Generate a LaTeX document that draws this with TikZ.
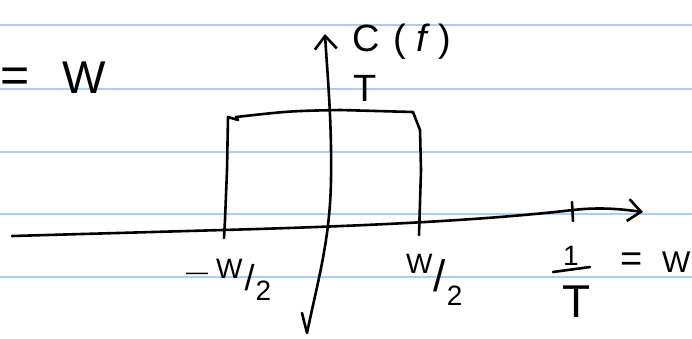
\documentclass[tikz,border=0pt]{standalone}
\usepackage{fontspec}
\setmainfont{Liberation Sans}
\usetikzlibrary{arrows.meta}
\definecolor{ruleblue}{RGB}{166,206,248}
\begin{document}
\begin{tikzpicture}[x=1pt,y=-1pt,
  rule/.style={draw=ruleblue, line width=2pt},
  ink/.style={draw=black, line width=2.6pt, line cap=round, line join=round},
  axis/.style={ink, -{Straight Barb[length=13pt,width=22pt]}},
  lbl/.style={inner sep=0pt, text=black},
  big/.style={lbl, font=\fontsize{46}{50}\selectfont},
  mid/.style={lbl, font=\fontsize{38}{42}\selectfont},
  small/.style={lbl, font=\fontsize{28}{32}\selectfont}]
\useasboundingbox (0,0) rectangle (692,338);
\fill[white] (0,0) rectangle (692,338);

% ruled paper
\foreach \y in {25,89,152,214,277}
  \draw[rule] (0,\y) -- (692,\y);

% axis end points
\coordinate (vbot) at (307,333);
\coordinate (vtop) at (325,34);
\coordinate (hleft) at (12,236);
\coordinate (hright) at (643,212);

% vertical axis with its small hook at the bottom
\draw[axis] (302,313) -- (vbot) .. controls (318,280) and (330,240) .. (331,180)
  .. controls (332,120) and (327,70) .. (vtop);

% horizontal (frequency) axis
\draw[axis] (hleft) -- (223,230) .. controls (330,227) and (470,222) .. (573,210)
  .. controls (600,207) and (620,209) .. (hright);

% tick at 1/T
\coordinate (tk1) at (572,202);
\coordinate (tk2) at (573,221);
\draw[ink] (tk1) -- (tk2);

% rectangular pulse of height T from -W/2 to W/2
\coordinate (pl0) at (224,238);
\coordinate (pl1) at (228,117);
\coordinate (pr1) at (413,112);
\coordinate (pr0) at (419,235);
\draw[ink] (pl0) -- (225,220) -- (227,170) -- (pl1) -- (238,120) -- (236,117)
  .. controls (290,111) .. (340,110) -- (pr1) -- (420,130) -- (421,170) -- (pr0);

% labels
\node[big] (eqw) at (84,78) {W};
\node[lbl, font=\fontsize{50}{50}\selectfont] (eqs) at (15,80) {=};
\node[mid, anchor=west] (cf) at (352,42) {C\hspace{14pt}(\hspace{10pt}\textit{f}\hspace{8pt})};
\node[mid] (tval) at (365,88) {T};
\node[small, anchor=west] (lneg) at (186,280) {\raisebox{5pt}{\fontsize{22}{22}\selectfont —}\hspace{8pt}\raisebox{6pt}{W}\hspace{2pt}\raisebox{-6pt}{\fontsize{36}{36}\selectfont /}\hspace{1pt}\raisebox{-16pt}{2}};
\node[small, anchor=west] (lpos) at (406,280) {\raisebox{12pt}{W}\hspace{1pt}\raisebox{-6pt}{\fontsize{44}{44}\selectfont /}\hspace{1pt}\raisebox{-20pt}{2}};
\node[small] (one) at (571,256) {1};
\coordinate (fb1) at (553,272);
\coordinate (fb2) at (590,267);
\draw[ink] (fb1) -- (fb2);
\node[lbl, font=\fontsize{46}{50}\selectfont] (den) at (577,302) {T};
\node[mid, anchor=west] (eqr) at (620,262) {=};
\node[lbl, font=\fontsize{30}{34}\selectfont, anchor=west] (wr) at (662,262) {W};
\end{tikzpicture}
\end{document}
